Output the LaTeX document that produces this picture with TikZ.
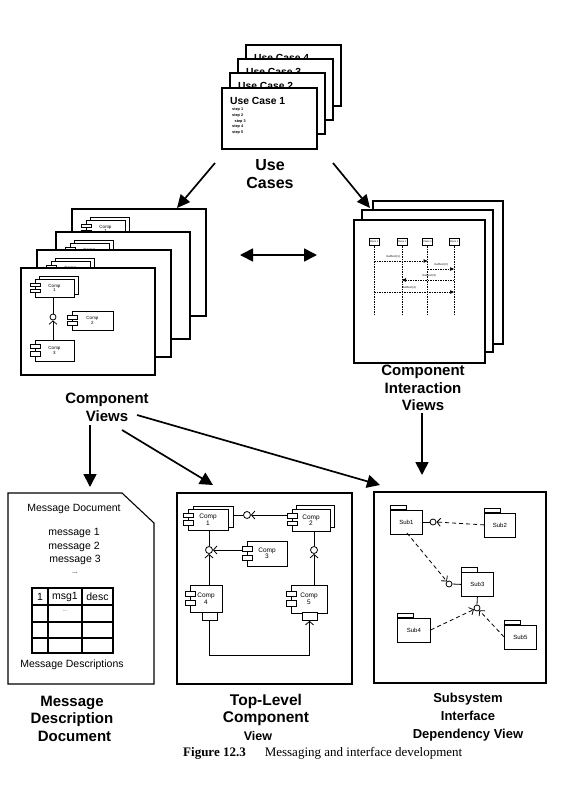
\documentclass[tikz,border=0pt]{standalone}
\usepackage{fontspec}
\setmainfont{Liberation Sans}
\newfontfamily\capfont{Liberation Serif}
\usetikzlibrary{arrows.meta,calc}

\tikzset{
  win/.style={draw, fill=white, line width=1.1pt},
  big/.style={line width=1.7pt, -{Triangle[length=13pt,width=12pt]}},
  lbl/.style={font=\bfseries\fontsize{15}{17.5}\selectfont, align=center, inner sep=0},
  compbox/.style={draw, fill=white, align=center, inner sep=0, line width=0.7pt},
  lolli/.style={circle, draw, fill=white, inner sep=0, minimum size=7pt, line width=0.8pt},
  sock/.style={line width=0.8pt, -{Straight Barb[length=3.5pt,width=8pt]}},
  thin/.style={line width=0.8pt},
  obj/.style={draw, fill=white, line width=0.6pt, minimum width=10pt, minimum height=7.5pt, inner sep=0, font=\fontsize{2.5}{3}\selectfont},
  life/.style={line width=0.5pt, dash pattern=on 1.5pt off 1pt},
  msg/.style={line width=0.5pt, dash pattern=on 1.5pt off 1pt, -{Triangle[length=4pt,width=3.5pt]}},
  tiny/.style={font=\fontsize{2.8}{3}\selectfont, inner sep=0},
  dashd/.style={dash pattern=on 4pt off 3pt}
}

% name, cx, cy, w, h, label, fontsize
\newcommand\ucomp[7]{%
  \node[compbox, minimum width=#4, minimum height=#5, font=\fontsize{#7}{#7}\selectfont] (#1) at (#2,#3) {Comp\\#6};
  \draw[fill=white, line width=0.7pt] (#2-#4/2-5,#3-#5*0.28) rectangle ++(10,#5*0.2);
  \draw[fill=white, line width=0.7pt] (#2-#4/2-5,#3+#5*0.06) rectangle ++(10,#5*0.2);
}

% back component view window (only the top component shows): prefix, ox, oy
\newcommand\cvback[3]{%
  \draw[win] (#2,#3) rectangle ++(134,107);
  \draw[fill=white, line width=0.7pt] (#2+18,#3+8) rectangle ++(39,18);
  \ucomp{#1a}{#2+33.5}{#3+20}{39}{18}{1}{4.5}
}

% front component view window: prefix, ox, oy
\newcommand\cvwin[3]{%
  \cvback{#1}{#2}{#3}
  \ucomp{#1b}{#2+71.5}{#3+52.5}{41}{19}{2}{4.5}
  \ucomp{#1c}{#2+33.5}{#3+82.5}{39}{21}{3}{4.5}
  \node[lolli, minimum size=6pt] (#1i) at (#2+32,#3+49) {};
  \draw[line width=0.7pt] (#1i.north) -- (#1i.north |- #1a.south);
  \draw[sock, line width=0.7pt] (#1i.south |- #1c.north) -- (#1i.south);
}

% use case window: x, y, number
\newcommand\ucwin[3]{%
  \draw[win] (#1,#2) rectangle ++(95,61);
  \node[anchor=west, font=\bfseries\fontsize{10.3}{11}\selectfont, inner sep=0] (uct#3) at (#1+8,#2+12.5) {Use Case #3};
}

% folder: name, x, y(tab top), w, label
\newcommand\folder[5]{%
  \draw[fill=white, line width=0.8pt] (#2,#3) rectangle ++(16,4.5);
  \node[draw, fill=white, line width=0.8pt, minimum width=#4, minimum height=24, anchor=north west, inner sep=0, font=\fontsize{6}{6}\selectfont] (#1) at (#2,#3+4.5) {#5};
}

\begin{document}
\begin{tikzpicture}[x=1pt,y=-1pt]
\useasboundingbox[fill=white] (0,0) rectangle (564,795);

% ---------- Use cases ----------
\ucwin{246}{45}{4}
\ucwin{238}{59}{3}
\ucwin{230}{73}{2}
\ucwin{222}{88}{1}
\begin{scope}[every node/.style={anchor=west, font=\bfseries\fontsize{3.8}{4}\selectfont, inner sep=0}]
\node (st1) at (232,110) {step 1};
\node (st2) at (232,116) {step 2};
\node (st3) at (234.5,121.5) {step 3};
\node (st4) at (232,127) {step 4};
\node (st5) at (232,133) {step 5};
\end{scope}
\node[lbl, font=\bfseries\fontsize{16}{17.5}\selectfont] (ucl) at (270,174) {Use\\Cases};

% ---------- Component views ----------
\cvback{cvd}{72}{209}
\cvback{cvc}{56}{232}
\cvback{cvb}{37}{250}
\cvwin{cva}{21}{268}
\node[lbl] (cvl) at (107,407.5) {Component\\Views};

% ---------- Component interaction views ----------
\draw[win] (373,201) rectangle (503,344);
\draw[win] (362,210) rectangle (493,352);
\draw[win] (354,220) rectangle (485,363);
\node[obj] (o1) at (374,242) {Class 1};
\node[obj] (o2) at (402,242) {Class 1};
\node[obj] (o3) at (427.5,242) {Class 1};
\node[obj] (o4) at (454,242) {Class 1};
\foreach \o in {o1,o2,o3,o4} { \draw[life] (\o.south) -- (\o.south |- 0,315); }
\coordinate (m1) at (0,261);
\coordinate (m2) at (0,269);
\coordinate (m3) at (0,280);
\coordinate (m4) at (0,292);
\draw[msg] (o1 |- m1) -- (o3 |- m1);
\draw[msg] (o3 |- m2) -- (o4 |- m2);
\draw[msg] (o4 |- m3) -- (o2 |- m3);
\draw[msg] (o1 |- m4) -- (o4 |- m4);
\node[tiny] (ml1) at (393,257) {method (1)};
\node[tiny] (ml2) at (441,265) {method (2)};
\node[tiny] (ml3) at (429,276) {method (3)};
\node[tiny] (ml4) at (409,288) {method (4)};
\node[lbl] (civl) at (423,388) {Component\\Interaction\\Views};

% ---------- big arrows ----------
\coordinate (a1s) at (215,163); \coordinate (a1e) at (177,208);
\coordinate (a2s) at (333,163); \coordinate (a2e) at (370,208);
\draw[big] (a1s) -- (a1e);
\draw[big] (a2s) -- (a2e);
\coordinate (dl) at (240,255); \coordinate (dr) at (317,255);
\draw[line width=1.7pt, {Triangle[length=13pt,width=13pt]}-{Triangle[length=13pt,width=13pt]}] (dl) -- (dr);
\coordinate (b1s) at (90,425);  \coordinate (b1e) at (90,487);
\coordinate (b2s) at (122,430); \coordinate (b2e) at (213,485);
\coordinate (b3s) at (137,415); \coordinate (b3e) at (380,485);
\coordinate (b4s) at (422,413); \coordinate (b4e) at (422,475);
\draw[big, -{Triangle[length=13pt,width=13pt]}] (b1s) -- (b1e);
\draw[big, -{Triangle[length=13pt,width=13pt]}] (b2s) -- (b2e);
\draw[big, -{Triangle[length=13pt,width=13pt]}] (b3s) -- (b3e);
\draw[big, -{Triangle[length=13pt,width=13pt]}] (b4s) -- (b4e);

% ---------- Message document ----------
\draw[line width=1.1pt] (8,493) -- (122,493) -- (154,523) -- (154,684) -- (8,684) -- cycle;
\begin{scope}[every node/.style={font=\fontsize{10.5}{12}\selectfont, inner sep=0}]
\node (mdt) at (74,509) {Message Document};
\node (mm1) at (74,533) {message 1};
\node (mm2) at (74,546.5) {message 2};
\node (mm3) at (75,560) {message 3};
\node[font=\fontsize{7}{8}\selectfont] (mmd) at (75,573) {...};
\node (mdesc) at (72,665) {Message Descriptions};
\node (t11) at (40,596.5) {1};
\node (t12) at (65,596.5) {msg1};
\node (t13) at (97.5,596.5) {desc};
\node[font=\fontsize{6}{7}\selectfont, text=black!60] (t22) at (65,611) {...};
\end{scope}
\draw[line width=1.1pt] (32,588) rectangle (113,653);
\draw[line width=1.1pt] (48,588) -- (48,653) (82,588) -- (82,653)
  (32,605) -- (113,605) (32,622) -- (113,622) (32,638) -- (113,638);
\node[lbl] (mdl) at (72,718.5) {Message\\Description\\\hspace*{5pt}Document};

% ---------- Top-level component view ----------
\draw[line width=1.8pt] (177,493) rectangle (352,684);
\draw[fill=white, line width=0.7pt] (193,506) rectangle ++(40,21);
\ucomp{t1}{208}{519.5}{40}{21}{1}{6.5}
\draw[fill=white, line width=0.7pt] (296,505) rectangle ++(38,22);
\ucomp{t2}{311}{520}{38}{22}{2}{6.5}
\ucomp{t3}{267}{553.5}{40}{25}{3}{6.5}
\ucomp{t4}{206}{598.5}{32}{27}{4}{6.5}
\ucomp{t5}{309}{599}{36}{28}{5}{6.5}
\node[draw, fill=white, line width=0.7pt, minimum width=15, minimum height=8, inner sep=0] (p4) at (209.5,616) {};
\node[draw, fill=white, line width=0.7pt, minimum width=15, minimum height=8, inner sep=0] (p5) at (309.5,616.5) {};
\node[lolli] (i12) at (247,515) {};
\node[lolli] (i13) at (209,550) {};
\node[lolli] (i25) at (314,550) {};
\draw[thin] (233,515) -- (i12.west);
\draw[sock] (287,515) -- (i12.east);
\draw[thin] (i13.north) -- (209,530);
\draw[sock] (242,550) -- (i13.east);
\draw[sock] (209,585) -- (i13.south);
\draw[thin] (i25.north) -- (314,531);
\draw[sock] (314,585) -- (i25.south);
\draw[sock] (p4.south) -- (209.5,655) -| (p5.south);
\node[lbl, font=\bfseries\fontsize{15.5}{17}\selectfont] (tll) at (266,710) {Top-Level\\Component};
\node[lbl, font=\bfseries\fontsize{12.5}{14}\selectfont] (tlv) at (258,736) {View};

% ---------- Subsystem interface dependency view ----------
\draw[line width=1.8pt] (374,492) rectangle (546,683);
\folder{sub1}{390}{505}{32}{Sub1}
\folder{sub2}{484}{508}{31}{Sub2}
\folder{sub3}{461}{567.5}{32}{Sub3}
\folder{sub4}{397}{613}{33}{Sub4}
\folder{sub5}{504}{620}{32}{Sub5}
\node[lolli, minimum size=6pt] (s12) at (433,522) {};
\node[lolli, minimum size=6pt] (s13) at (449,584) {};
\node[lolli, minimum size=6pt] (s3x) at (477,608) {};
\draw[thin] (422,522) -- (s12.west);
\draw[sock, dashd] (sub2.west) -- (s12.east);
\draw[thin] (s13.east) -- (sub3.west);
\draw[sock, dashd] (407,533) -- (s13);
\draw[thin] (sub3.south) -- (s3x.north);
\draw[sock, dashd] (sub4.east) -- (s3x);
\draw[sock, dashd] (sub5.west) -- (s3x);
\node[lbl, font=\bfseries\fontsize{13}{18}\selectfont] (ssl) at (468,717) {Subsystem\\Interface\\Dependency View};

% ---------- caption ----------
\node[anchor=west, inner sep=0, font=\capfont\fontsize{13}{15}\selectfont] (cap) at (183,753)
  {\textbf{Figure 12.3}\hspace{19pt}Messaging and interface development};
\end{tikzpicture}
\end{document}
